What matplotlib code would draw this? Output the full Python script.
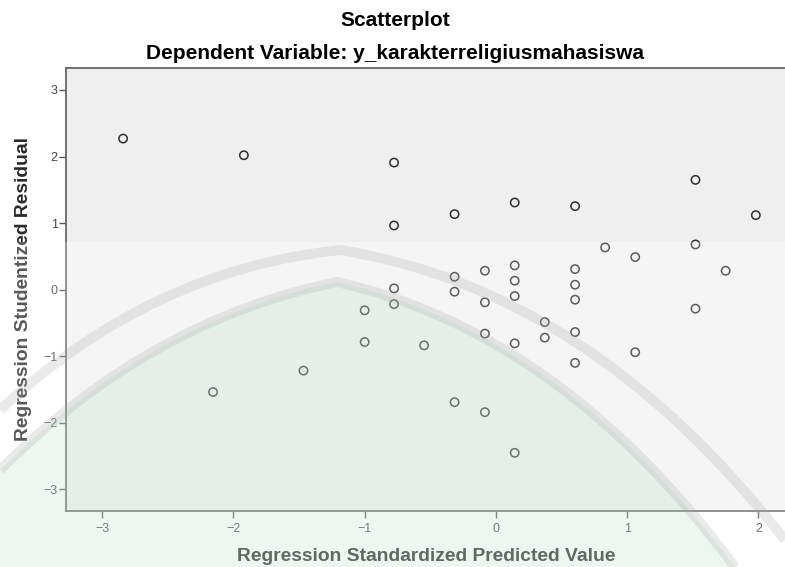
import matplotlib
matplotlib.use("Agg")
import matplotlib.pyplot as plt
from matplotlib.patches import Rectangle, PathPatch
from matplotlib.path import Path
from matplotlib.transforms import Affine2D

plt.rcParams['font.family'] = ['Liberation Sans', 'DejaVu Sans']

# ---- data ----
pred = [-2.84, -1.92, -0.776, -0.776, -0.776, -0.776, -0.315, 0.143, 0.603, 1.52,
        1.98, 0.832, 1.061, 1.52, 1.75, 0.143, 0.143, 0.143, -0.084, -0.315,
        -0.315, 0.603, 0.603, 0.603, -1.0, -1.0, -1.466, -2.155, -0.084, 0.372,
        0.372, 0.603, 0.603, -0.084, 0.143, -0.547, 1.061, 1.52, -0.315, -0.084,
        0.143]
resid = [2.27, 2.02, 1.91, 0.965, 0.02, -0.216, 1.135, 1.31, 1.255, 1.65,
         1.12, 0.635, 0.49, 0.68, 0.285, 0.365, 0.135, -0.096, 0.285, 0.195,
         -0.03, 0.31, 0.075, -0.15, -0.31, -0.786, -1.216, -1.537, -0.19, -0.486,
         -0.72, -0.636, -1.10, -0.66, -0.806, -0.836, -0.94, -0.285, -1.69, -1.84,
         -2.45]
xticks = [-3, -2, -1, 0, 1, 2]
yticks = [-3, -2, -1, 0, 1, 2, 3]
title1 = "Scatterplot"
title2 = "Dependent Variable: y_karakterreligiusmahasiswa"
xlabel = "Regression Standardized Predicted Value"
ylabel = "Regression Studentized Residual"

W, H = 785, 567
fig = plt.figure(figsize=(W / 100, H / 100), dpi=100)
fig.patch.set_facecolor('white')

ax = fig.add_axes([66 / W, 1 - 510.7 / H, (W - 66) / W + 0.002, (510.7 - 67.7) / H])
ax.set_facecolor('#efefef')
ax.set_xlim(-3.275, 2.214)
ax.set_ylim(-3.32, 3.335)
ax.axhspan(-3.32, 0.7205, color='#f3f3f3', lw=0, zorder=0)
ax.scatter(pred, resid, s=36, facecolors='none', edgecolors='#2e2e2e', linewidths=1.1, zorder=3)
ax.set_xticks(xticks)
ax.set_yticks(yticks)
ax.tick_params(axis='both', direction='out', length=5, width=1, colors='#555555',
               labelcolor='#444444', labelsize=9)
ax.tick_params(axis='y', pad=1)
for s in ['left', 'bottom', 'top']:
    ax.spines[s].set_color('#666666')
    ax.spines[s].set_linewidth(1.3)
ax.spines['right'].set_visible(False)
ax.set_xlabel(xlabel, fontsize=13.9, fontweight='bold', color='#222222', labelpad=10)
ax.set_ylabel(ylabel, fontsize=13.9, fontweight='bold', color='#2a2a2a', labelpad=8)

fig.text(0.503, 1 - 26 / H, title1, ha='center', va='baseline', fontsize=15,
         fontweight='bold', color='black')
fig.text(0.503, 1 - 59 / H, title2, ha='center', va='baseline', fontsize=15,
         fontweight='bold', color='black')

# ---- watermark overlay (pixel coords from top-left) ----
pix = Affine2D().scale(1 / W, -1 / H).translate(0, 1) + fig.transFigure
fig.add_artist(Rectangle((0, 241.7), W, H - 241.7, transform=pix, facecolor='white',
                         edgecolor='none', alpha=0.22, zorder=10))

inner = [(0, 470), (150, 320), (337, 282), (560, 332), (735, 567)]
outer = [(0, 410), (150, 270), (340, 250), (590, 290), (785, 540)]
green_verts = inner + [(0, 567), (0, 470)]
green_codes = [Path.MOVETO, Path.CURVE3, Path.CURVE3, Path.CURVE3, Path.CURVE3,
               Path.LINETO, Path.CLOSEPOLY]
fig.add_artist(PathPatch(Path(green_verts, green_codes), transform=pix,
                         facecolor='#a0d7b4', edgecolor='none', alpha=0.18, zorder=11))
band_codes = [Path.MOVETO, Path.CURVE3, Path.CURVE3, Path.CURVE3, Path.CURVE3]
for pts in (inner, outer):
    fig.add_artist(PathPatch(Path(pts, band_codes), transform=pix, facecolor='none',
                             edgecolor='#a0a0a0', linewidth=7.2, alpha=0.22, zorder=12,
                             capstyle='butt'))

fig.savefig('out.png', dpi=100)
